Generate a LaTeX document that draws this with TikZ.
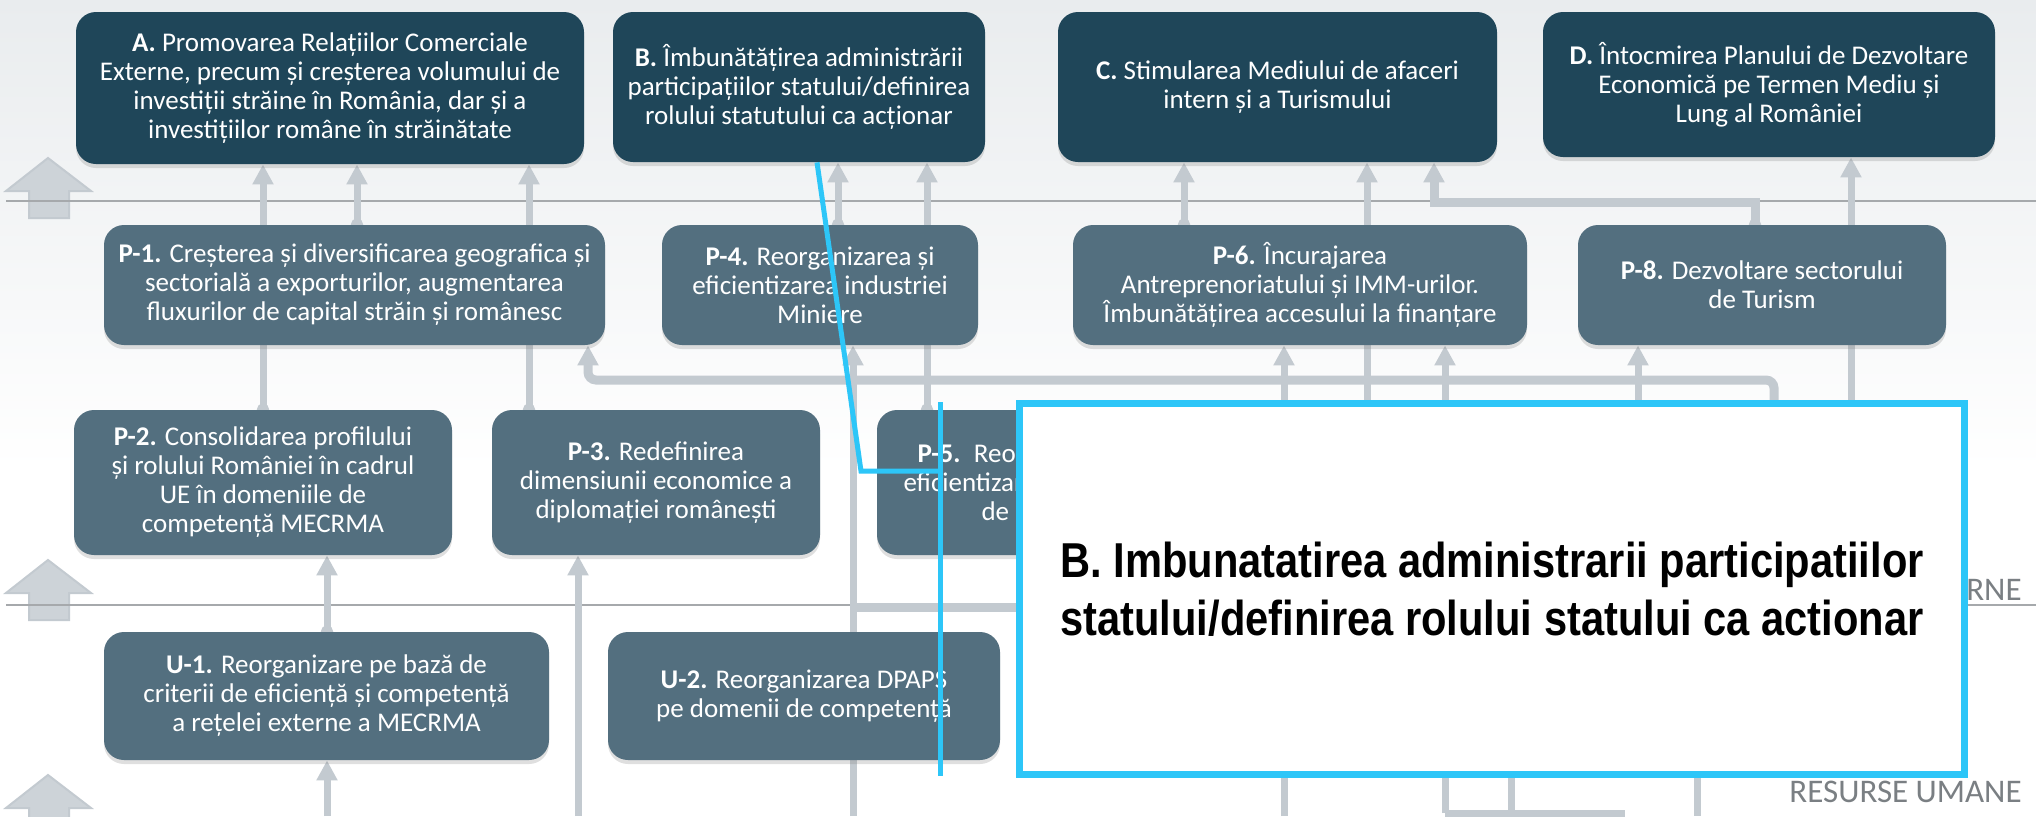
\documentclass[tikz,border=0pt]{standalone}
\usepackage{fontspec}
\setmainfont{Carlito}
\newfontfamily\notefont[FakeStretch=0.85]{Liberation Sans}
\usetikzlibrary{positioning, arrows.meta, shadows}
\definecolor{goalblue}{HTML}{1F4659}
\definecolor{progslate}{HTML}{536F7F}
\definecolor{linkgray}{HTML}{C3CAD0}
\definecolor{sepgray}{HTML}{A6A9AC}
\definecolor{arrowgray}{HTML}{CDD3D8}
\definecolor{notecyan}{HTML}{2DC6F8}
\definecolor{bandgray}{HTML}{7A7F83}
\definecolor{bgtop}{HTML}{E9ECEE}
\pgfdeclarelayer{back}
\pgfdeclarelayer{links}
\pgfsetlayers{back,links,main}
\tikzset{x=0.5pt, y=-0.5pt, % one unit = one pixel of the original, y runs down
box/.style={ % Common look of all boxes
rectangle, rounded corners=10pt, text=white, align=center, inner sep=0pt,
font={\fontsize{13.5}{14.5}\selectfont},
drop shadow={shadow xshift=0pt, shadow yshift=-2pt, opacity=0.25}},
goal/.style={box, fill=goalblue}, % Top row
prog/.style={box, fill=progslate}, % Lower rows
link/.style={ % Arrow into a box
draw=linkgray, line width=3.5pt, -{Triangle[length=10pt,width=10pt]}},
dotlink/.style={link, {Circle[length=6pt,width=6pt]}-{Triangle[length=10pt,width=10pt]}, shorten <=-3pt},
bus/.style={link, line width=4.5pt, rounded corners=4pt},
plain/.style={draw=linkgray, line width=3.5pt},
sepline/.style={draw=sepgray, line width=1.2pt},
blockarrow/.style={fill=arrowgray, draw=linkgray, line width=1pt},
band/.style={text=bandgray, inner sep=0pt, font={\fontsize{16.5}{16.5}\selectfont}},
note/.style={draw=notecyan, line width=3.5pt, fill=white, align=left, inner sep=0pt,
font={\notefont\bfseries\fontsize{24.5}{29}\selectfont}},
callout/.style={draw=notecyan, line width=2.5pt}}

\begin{document}
\begin{tikzpicture}
\useasboundingbox (0,0) rectangle (2036,816);

\node[goal, minimum width=254pt, minimum height=76pt] (A) at (330,88) {\textbf{A.} Promovarea Relațiilor Comerciale\\ Externe, precum și creșterea volumului de\\ investiții străine în România, dar și a\\ investițiilor române în străinătate};
\node[goal, minimum width=186pt, minimum height=75pt] (B) at (799,87) {\textbf{B.} Îmbunătățirea  administrării\\ participațiilor statului/definirea\\ rolului statutului ca acționar};
\node[goal, minimum width=219.5pt, minimum height=75pt] (C) at (1277.5,87) {\textbf{C.} Stimularea Mediului de afaceri\\ intern și a Turismului};
\node[goal, minimum width=226pt, minimum height=72.5pt] (D) at (1769,84.5) {\textbf{D.} Întocmirea Planului de Dezvoltare\\ Economică pe Termen Mediu și\\ Lung al României};

\node[prog, minimum width=250.5pt, minimum height=60pt] (P1) at (354.5,285) {\textbf{P-1.} Creșterea și diversificarea geografica și\\ sectorială a exporturilor, augmentarea\\ fluxurilor de capital străin și românesc};
\node[prog, minimum width=158pt, minimum height=60pt] (P4) at (820,285) {\textbf{P-4.} Reorganizarea și\\ eficientizarea industriei\\ Miniere};
\node[prog, minimum width=227pt, minimum height=60pt] (P6) at (1300,285) {\textbf{P-6.} Încurajarea\\ Antreprenoriatului și IMM-urilor.\\ Îmbunătățirea accesului la finanțare};
\node[prog, minimum width=184pt, minimum height=60pt] (P8) at (1762,285) {\textbf{P-8.} Dezvoltare sectorului\\ de Turism};

\node[prog, minimum width=189pt, minimum height=72.5pt] (P2) at (263,482.5) {\textbf{P-2.} Consolidarea profilului\\ și rolului României în cadrul\\ UE în domeniile de\\ competență MECRMA};
\node[prog, minimum width=164pt, minimum height=72.5pt] (P3) at (656,482.5) {\textbf{P-3.} Redefinirea\\ dimensiunii economice a\\ diplomației românești};
\node[prog, minimum width=166.5pt, minimum height=72.5pt, text width=150pt, align=left] (P5) at (1043.5,482.5) {\hspace*{12pt}\textbf{P-5.} Reorganizarea\\ \hspace*{5pt}eficientizarea\\ \hspace*{44pt}de};

\node[prog, minimum width=222.5pt, minimum height=64pt] (U1) at (326.5,696) {\textbf{U-1.} Reorganizare pe bază de\\ criterii de eficiență și competență\\ a rețelei externe a MECRMA};
\node[prog, minimum width=196pt, minimum height=64pt] (U2) at (804,696) {\textbf{U-2.} Reorganizarea DPAPS\\ pe domenii de competență};

\node[band, anchor=base east] (ext) at (2022,600) {RNE};
\node[band, anchor=base east] (hr) at (2022,802) {RESURSE UMANE};

% free ends hidden under the note or cut by the border
\coordinate (inC) at (1367,520);
\coordinate (inD) at (1851,520);
\coordinate (inP8) at (1638,520);
\coordinate (busEnd) at (1774,520);
\coordinate (lowBus) at (1150,607);
\coordinate (botU1) at (327,816);
\coordinate (botP3) at (578,816);
\coordinate (botP4) at (853,816);
\coordinate (botP6) at (1284,816);
\coordinate (botP6b) at (1445,813);
\coordinate (botEnd) at (1625,813);

\begin{pgfonlayer}{back}
\fill[white] (0,0) rectangle (2036,816);
\shade[top color=bgtop, bottom color=white] (0,0) rectangle (2036,470);
\foreach \t in {158,560,775}
  \filldraw[blockarrow] (48,\t) -- (91,\t+33) -- (69,\t+33) -- (69,\t+60) -- (29,\t+60) -- (29,\t+33) -- (6,\t+33) -- cycle;
\draw[sepline] (6,201) -- (2036,201);
\draw[sepline] (6,605) -- (2036,605);
\end{pgfonlayer}

\begin{pgfonlayer}{links}
\draw[dotlink] (P2.north -| 263,0) -- (A.south -| 263,0);
\draw[dotlink] (P1.north -| 357,0) -- (A.south -| 357,0);
\draw[dotlink] (P3.north -| 529,0) -- (A.south -| 529,0);
\draw[dotlink] (P4.north -| 838,0) -- (B.south -| 838,0);
\draw[dotlink] (P5.north -| 927,0) -- (B.south -| 927,0);
\draw[dotlink] (P6.north -| 1184,0) -- (C.south -| 1184,0);
\draw[link] (inC) -- (C.south -| inC);
\draw[dotlink, line width=4.5pt] (P8.north -| 1755,0) -- (1755,202) -- (1434,202) -- (C.south -| 1434,0);
\draw[link] (inD) -- (D.south -| inD);

\draw[bus] (busEnd) -- (1774,380) -- (588,380) -- (P1.south -| 588,0);
\draw[link] (botP4) -- (P4.south -| botP4);
\draw[link] (botP6) -- (P6.south -| botP6);
\draw[link] (botP6b) -- (P6.south -| botP6b);
\draw[plain] (botP6b) -- (botEnd);
\draw[plain] (1511,770) -- (1511,813);
\draw[plain] (1697,770) -- (1697,816);
\draw[link] (inP8) -- (P8.south -| inP8);
\draw[bus, -] (botP4 |- lowBus) -- (lowBus);

\draw[dotlink] (U1.north -| 327,0) -- (P2.south -| 327,0);
\draw[link] (botP3) -- (P3.south -| botP3);
\draw[link] (botU1) -- (U1.south -| botU1);
\end{pgfonlayer}

\node[note, minimum width=472.5pt, minimum height=185.5pt] (note) at (1492,589) {B. Imbunatatirea administrarii participatiilor\\ statului/definirea rolului statului ca actionar};

\coordinate (kink) at (861,471);
\coordinate (barTop) at (940,402);
\coordinate (barBot) at (940,776);
\draw[callout] (B.south -| 817,0) -- (kink) -- (kink -| barTop);
\draw[callout] (barTop) -- (barBot);

\end{tikzpicture}
\end{document}
